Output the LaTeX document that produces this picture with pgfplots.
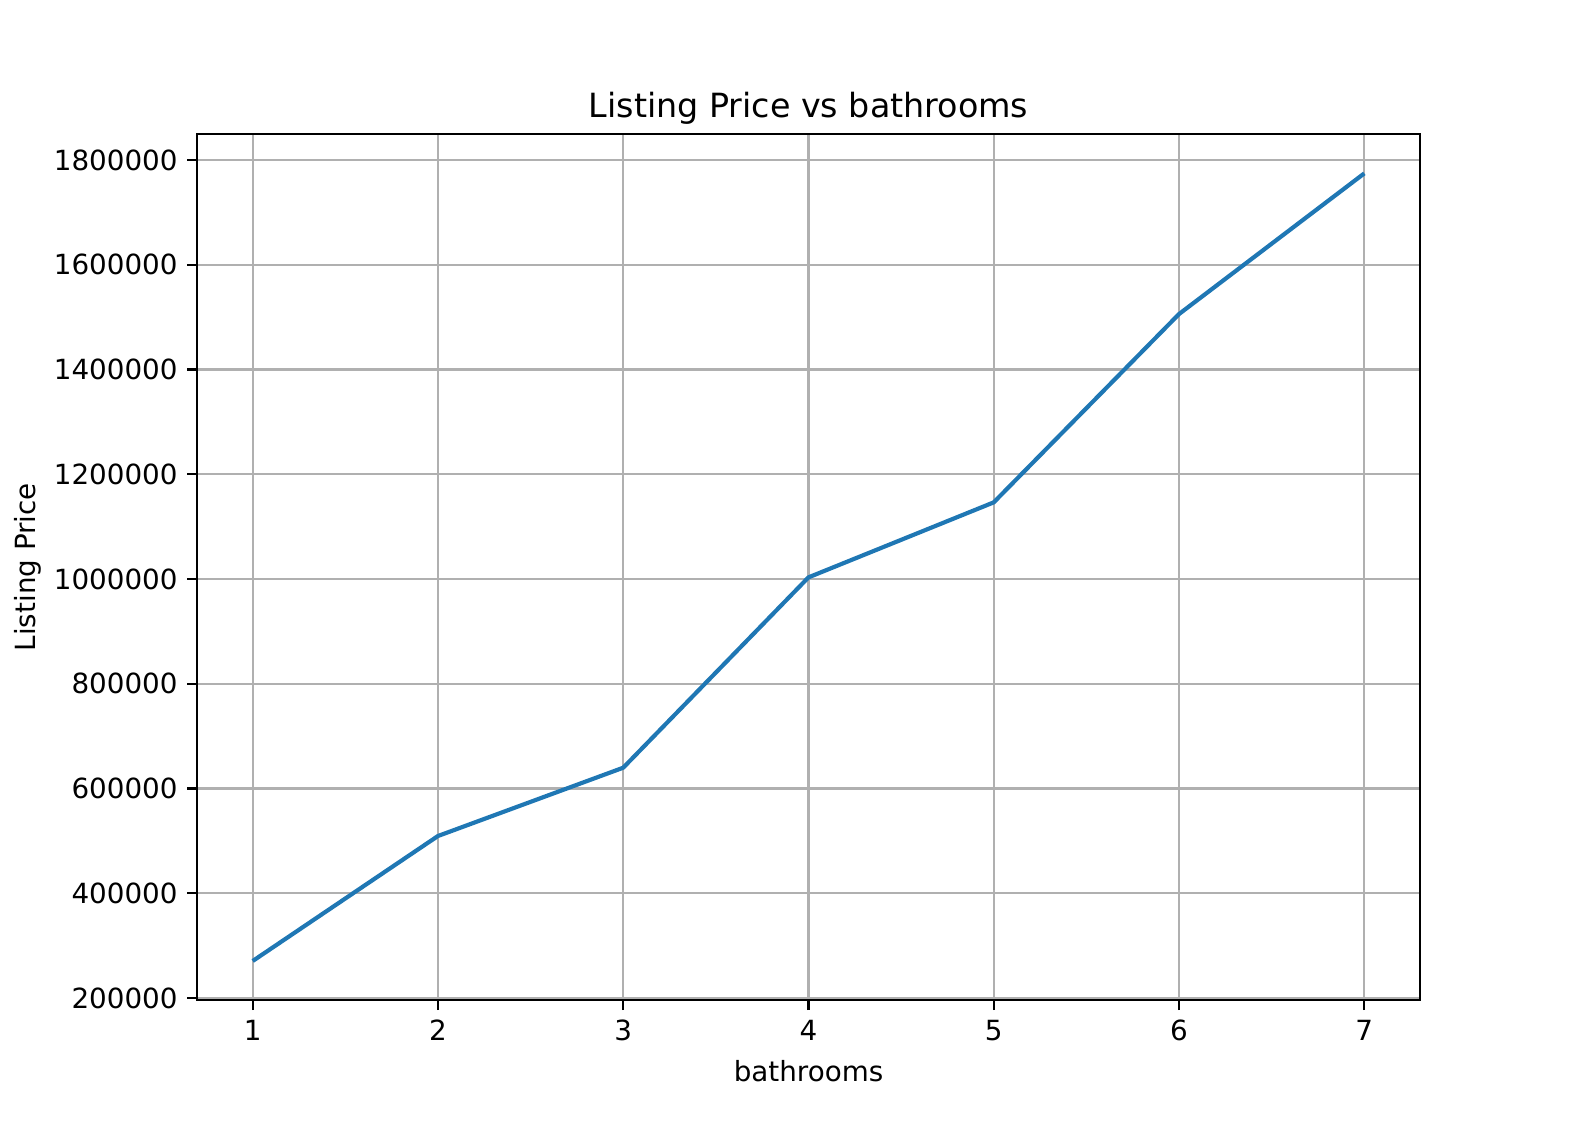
\documentclass[border=0pt]{standalone}
\usepackage{pgfplots}
\pgfplotsset{compat=1.18}
\usepackage{fontspec}
\setmainfont{DejaVu Sans}
\definecolor{c0}{HTML}{1F77B4}
\definecolor{gridc}{HTML}{B0B0B0}
\begin{document}
\begin{tikzpicture}
\path[use as bounding box] (0,0) rectangle (568.08pt,404.64pt);
\begin{axis}[
  at={(70.96pt,44.5pt)}, anchor=south west,
  scale only axis, width=440.2pt, height=311.9pt,
  xmin=0.7, xmax=7.3, ymin=195400, ymax=1849800,
  xtick={1,2,3,4,5,6,7},
  ytick={200000,400000,600000,800000,1000000,1200000,1400000,1600000,1800000},
  scaled y ticks=false,
  /pgf/number format/assume math mode=true,
  yticklabel={\pgfmathprintnumber[fixed,precision=0,1000 sep={}]{\tick}},
  tick label style={font=\fontsize{10}{12}\selectfont},
  grid=major,
  major grid style={gridc, line width=0.8pt},
  axis line style={black, line width=0.8pt},
  tick style={black, line width=0.8pt},
  tick align=outside, major tick length=3.5pt,
  xtick pos=left, ytick pos=left,
  title={Listing Price vs bathrooms},
  title style={font=\fontsize{12}{14}\selectfont, yshift=-6pt},
  xlabel={bathrooms}, ylabel={Listing Price},
  label style={font=\fontsize{10}{12}\selectfont},
  ylabel style={yshift=-2.5pt},
]
\addplot[c0, line width=1.5pt, line join=round] coordinates {
(1,270600) (2,509300) (3,639700) (4,1003200) (5,1146400) (6,1506000) (7,1774600)
};
\end{axis}
\end{tikzpicture}
\end{document}
